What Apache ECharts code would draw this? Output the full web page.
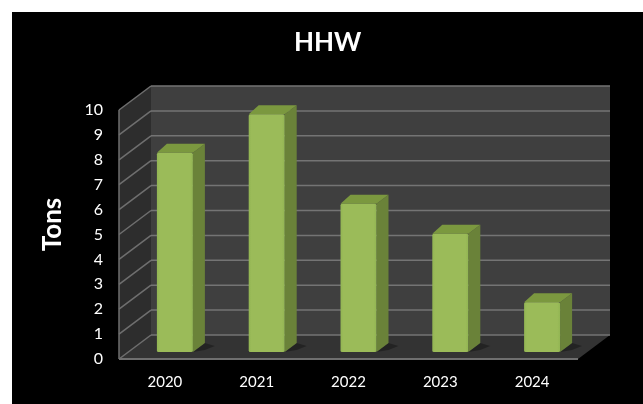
<!DOCTYPE html>
<html><head><meta charset="utf-8">
<style>html,body{margin:0;padding:0;background:#fff}#c{width:643px;height:404px}</style>
<script src="https://cdn.jsdelivr.net/npm/echarts@6/dist/echarts.min.js"></script>
</head><body><div id="c"></div>
<script>
var years = ['2020','2021','2022','2023','2024'];
var tons = [8, 9.55, 5.95, 4.75, 2];
var ticks = [0,1,2,3,4,5,6,7,8,9,10];
var chartTitle = 'HHW';
var yName = 'Tons';

var DX = 32, DY = -24;      // depth of the box
var BX = 10, BY = -7;       // bar front-face inset
var SX = 12, SY = -9;       // bar depth
var BW = 36;

function poly(pts, fill, extra) {
  return {type:'polygon', shape:{points:pts}, style:Object.assign({fill:fill}, extra||{})};
}
function line(a,b,color,w){
  return {type:'line', shape:{x1:a[0],y1:a[1],x2:b[0],y2:b[1]}, style:{stroke:color,lineWidth:w||2}};
}
function shell(params, api){
  var z0 = api.coord([0,0]);
  var z1 = api.coord([0,10]);
  var x0 = params.coordSys.x, x1 = x0 + params.coordSys.width;
  var yb = z0[1], yt = z1[1];
  var ch = [];
  ch.push(poly([[x0+DX,yt+DY],[x1+DX,yt+DY],[x1+DX,yb+DY],[x0+DX,yb+DY]],'#3f3f3f'));
  ch.push(poly([[x0,yt],[x0+DX,yt+DY],[x0+DX,yb+DY],[x0,yb]],'#2d2d2d'));
  ch.push(poly([[x0,yb],[x0+DX,yb+DY],[x1+DX,yb+DY],[x1,yb]],'#333333'));
  ticks.forEach(function(t){
    var y = api.coord([0,t])[1];
    ch.push(line([x0,y],[x0+DX,y+DY],'#6f6f6f',1.5));
    ch.push(line([x0+DX,y+DY],[x1+DX,y+DY],'#747474',1.5));
  });
  ch.push(line([x0,yt],[x0,yb],'#6f6f6f',1.5));
  ch.push(line([x0,yb],[x1,yb],'#6f6f6f',2));
  return {type:'group', children:ch};
}
function bar(params, api){
  var p = api.coord([api.value(0), api.value(1)]);
  var b = api.coord([api.value(0), 0]);
  var l = p[0]+BX-BW/2, r = l+BW, t = p[1]+BY, bt = b[1]+BY;
  return {type:'group', children:[
    poly([[r,bt],[r+SX,bt+SY],[r+SX+10,bt+SY+3],[r+SX,bt-2]],'rgba(0,0,0,0.3)'),
    poly([[r,t],[r+SX,t+SY],[r+SX,bt+SY],[r,bt]],'#6a8239'),
    poly([[l,t],[l+SX-2,t+SY],[r+SX,t+SY],[r,t]],'#7b983f'),
    {type:'rect', shape:{x:l,y:t,width:BW,height:bt-t,r:1.5},
     style:{fill:{type:'linear',x:0,y:0,x2:1,y2:0,colorStops:[
       {offset:0,color:'#92b553'},{offset:0.08,color:'#9bbb59'},{offset:0.92,color:'#9bbb59'},{offset:1,color:'#92b553'}]}}}
  ]};
}
var chart = echarts.init(document.getElementById('c'), null, {renderer:'canvas'});
chart.setOption({
  animation:false,
  backgroundColor:'#ffffff',
  graphic:[{type:'rect', z:-10, silent:true, shape:{x:12,y:12,width:631,height:392}, style:{fill:'#000'}}],
  title:{text:chartTitle,left:294,top:30,padding:0,
    textStyle:{color:'#fff',fontFamily:'Lato',fontWeight:'bold',fontSize:26}},
  grid:{left:119,top:110,width:459,height:249},
  xAxis:{type:'category',data:years,axisTick:{show:false},axisLine:{show:false},
    axisLabel:{color:'#ffffff',fontFamily:'Lato',fontSize:15,margin:16}},
  yAxis:{type:'value',min:0,max:10,interval:1,name:yName,nameLocation:'middle',nameGap:53,
    nameTextStyle:{color:'#fff',fontFamily:'Lato',fontWeight:'bold',fontSize:26,padding:[0,0,0,20]},
    splitLine:{show:false},axisLine:{show:false},axisTick:{show:false},
    axisLabel:{color:'#fff',fontFamily:'Lato',fontSize:16,margin:16,padding:[2,0,0,0]}},
  series:[
    {type:'custom',renderItem:shell,data:[[0,0]],z:1,silent:true,clip:false},
    {type:'custom',renderItem:bar,data:years.map(function(y,i){return [i,tons[i]];}),encode:{x:0,y:1},z:2,silent:true,clip:false}
  ]
});
</script></body></html>
